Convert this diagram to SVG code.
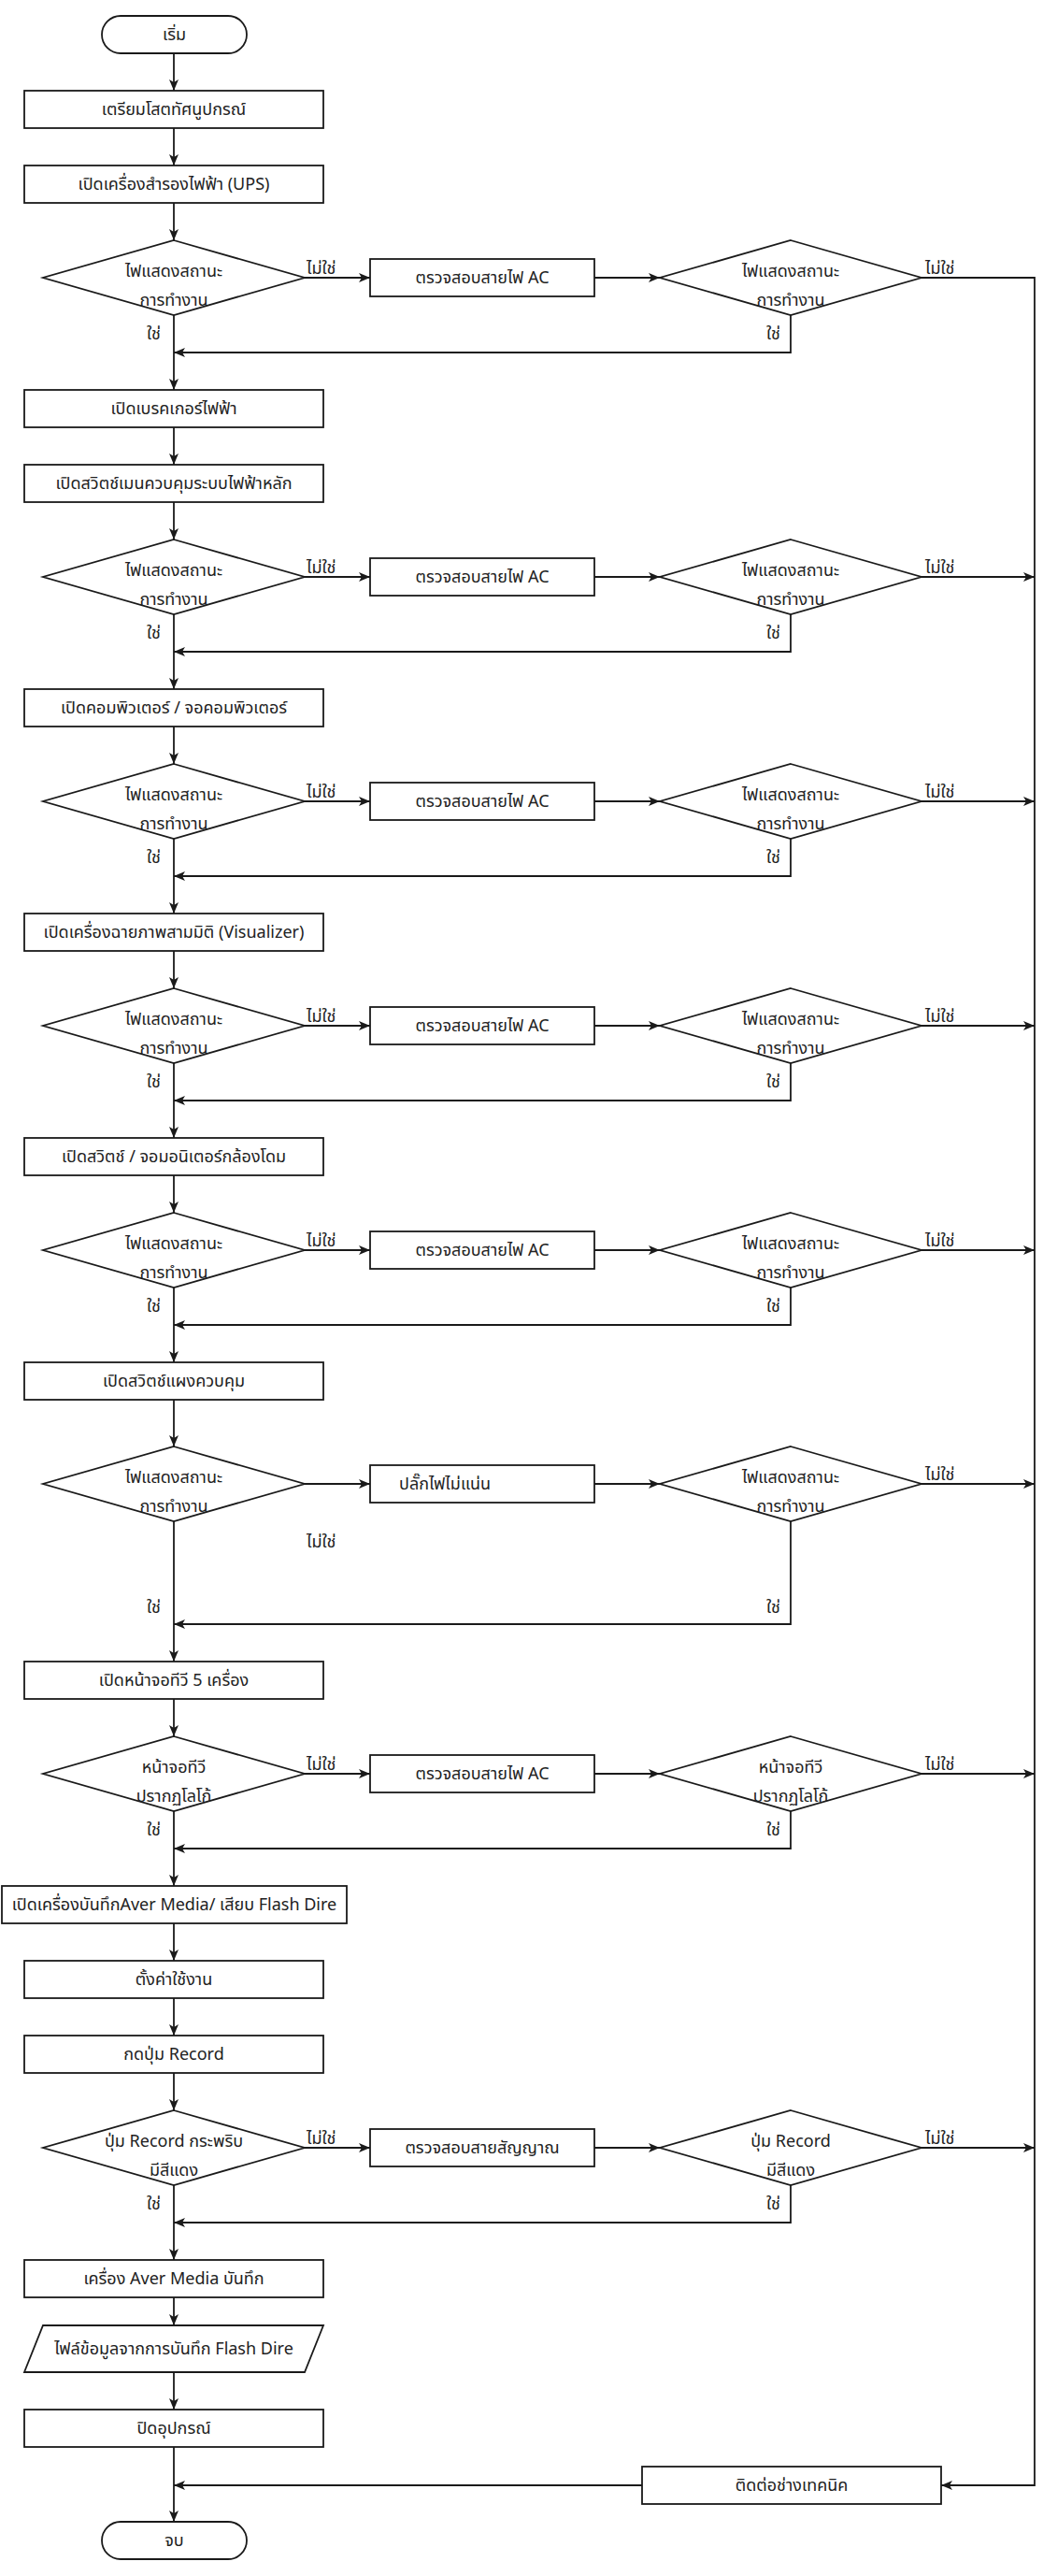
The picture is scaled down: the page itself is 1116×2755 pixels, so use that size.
<svg xmlns="http://www.w3.org/2000/svg" width="1116" height="2755" viewBox="0 0 1116 2755">
<style>
.s{fill:#fff;stroke:#1a1a1a;stroke-width:1.8}
.c{fill:none;stroke:#1a1a1a;stroke-width:1.8}
.a{marker-end:url(#ah)}
text{font-family:"Noto Sans Thai","Tahoma","Leelawadee UI","Noto Sans","DejaVu Sans",sans-serif;font-size:18px;fill:#222}
.m{text-anchor:middle}
</style>
<defs>
<marker id="ah" markerUnits="userSpaceOnUse" markerWidth="12" markerHeight="10" refX="12" refY="5" orient="auto">
<path d="M0,0 L12,5 L0,10 L3,5 z" fill="#1a1a1a"/>
</marker>
</defs>
<rect width="1116" height="2755" fill="#fff"/>
<g id="connectors">
<path class="c a" d="M186,57 V97"/>
<path class="c a" d="M186,137 V177"/>
<path class="c a" d="M186,217 V257"/>
<path class="c a" d="M186,337 V417"/>
<path class="c a" d="M186,457 V497"/>
<path class="c a" d="M186,537 V577"/>
<path class="c a" d="M186,657 V737"/>
<path class="c a" d="M186,777 V817"/>
<path class="c a" d="M186,897 V977"/>
<path class="c a" d="M186,1017 V1057"/>
<path class="c a" d="M186,1137 V1217"/>
<path class="c a" d="M186,1257 V1297"/>
<path class="c a" d="M186,1377 V1457"/>
<path class="c a" d="M186,1497 V1547"/>
<path class="c a" d="M186,1627 V1777"/>
<path class="c a" d="M186,1817 V1857"/>
<path class="c a" d="M186,1937 V2017"/>
<path class="c a" d="M186,2057 V2097"/>
<path class="c a" d="M186,2137 V2177"/>
<path class="c a" d="M186,2217 V2257"/>
<path class="c a" d="M186,2337 V2417"/>
<path class="c a" d="M186,2457 V2487"/>
<path class="c a" d="M186,2537 V2577"/>
<path class="c a" d="M186,2617 V2697"/>
<path class="c a" d="M326,297 H396"/><path class="c a" d="M636,297 H706"/><path class="c a" d="M846,337 V377 H186"/>
<path class="c a" d="M326,617 H396"/><path class="c a" d="M636,617 H706"/><path class="c a" d="M846,657 V697 H186"/>
<path class="c a" d="M326,857 H396"/><path class="c a" d="M636,857 H706"/><path class="c a" d="M846,897 V937 H186"/>
<path class="c a" d="M326,1097 H396"/><path class="c a" d="M636,1097 H706"/><path class="c a" d="M846,1137 V1177 H186"/>
<path class="c a" d="M326,1337 H396"/><path class="c a" d="M636,1337 H706"/><path class="c a" d="M846,1377 V1417 H186"/>
<path class="c a" d="M326,1587 H396"/><path class="c a" d="M636,1587 H706"/><path class="c a" d="M846,1627 V1737 H186"/>
<path class="c a" d="M326,1897 H396"/><path class="c a" d="M636,1897 H706"/><path class="c a" d="M846,1937 V1977 H186"/>
<path class="c a" d="M326,2297 H396"/><path class="c a" d="M636,2297 H706"/><path class="c a" d="M846,2337 V2377 H186"/>
<path class="c a" d="M986,297 H1107 V2658 H1007"/>
<path class="c a" d="M986,617 H1107"/>
<path class="c a" d="M986,857 H1107"/>
<path class="c a" d="M986,1097 H1107"/>
<path class="c a" d="M986,1337 H1107"/>
<path class="c a" d="M986,1587 H1107"/>
<path class="c a" d="M986,1897 H1107"/>
<path class="c a" d="M986,2297 H1107"/>
<path class="c a" d="M687,2658 H186"/>
<g id="labels">
<text x="328" y="293">ไม่ใช่</text><text x="990" y="293">ไม่ใช่</text><text x="157" y="363">ใช่</text><text x="820" y="363">ใช่</text>
<text x="328" y="613">ไม่ใช่</text><text x="990" y="613">ไม่ใช่</text><text x="157" y="683">ใช่</text><text x="820" y="683">ใช่</text>
<text x="328" y="853">ไม่ใช่</text><text x="990" y="853">ไม่ใช่</text><text x="157" y="923">ใช่</text><text x="820" y="923">ใช่</text>
<text x="328" y="1093">ไม่ใช่</text><text x="990" y="1093">ไม่ใช่</text><text x="157" y="1163">ใช่</text><text x="820" y="1163">ใช่</text>
<text x="328" y="1333">ไม่ใช่</text><text x="990" y="1333">ไม่ใช่</text><text x="157" y="1403">ใช่</text><text x="820" y="1403">ใช่</text>
<text x="328" y="1655">ไม่ใช่</text><text x="990" y="1583">ไม่ใช่</text><text x="157" y="1725">ใช่</text><text x="820" y="1725">ใช่</text>
<text x="328" y="1893">ไม่ใช่</text><text x="990" y="1893">ไม่ใช่</text><text x="157" y="1963">ใช่</text><text x="820" y="1963">ใช่</text>
<text x="328" y="2293">ไม่ใช่</text><text x="990" y="2293">ไม่ใช่</text><text x="157" y="2363">ใช่</text><text x="820" y="2363">ใช่</text>
</g>
</g>
<g id="start"><rect class="s" x="109" y="17" width="155" height="40" rx="20"/><text class="m" x="186.5" y="43">เริ่ม</text></g>
<g id="n1"><rect class="s" x="26" y="97" width="320" height="40"/><text class="m" x="186" y="123">เตรียมโสตทัศนูปกรณ์</text></g>
<g id="n2"><rect class="s" x="26" y="177" width="320" height="40"/><text class="m" x="186" y="203">เปิดเครื่องสำรองไฟฟ้า (UPS)</text></g>
<g id="d1"><path class="s" d="M186,257 L326,297 L186,337 L46,297 z"/><text class="m" x="186" y="296">ไฟแสดงสถานะ</text><text class="m" x="186" y="327">การทำงาน</text></g>
<g id="b1"><rect class="s" x="396" y="277" width="240" height="40"/><text class="m" x="516" y="303">ตรวจสอบสายไฟ AC</text></g>
<g id="e1"><path class="s" d="M846,257 L986,297 L846,337 L706,297 z"/><text class="m" x="846" y="296">ไฟแสดงสถานะ</text><text class="m" x="846" y="327">การทำงาน</text></g>
<g id="n3"><rect class="s" x="26" y="417" width="320" height="40"/><text class="m" x="186" y="443">เปิดเบรคเกอร์ไฟฟ้า</text></g>
<g id="n4"><rect class="s" x="26" y="497" width="320" height="40"/><text class="m" x="186" y="523">เปิดสวิตช์เมนควบคุมระบบไฟฟ้าหลัก</text></g>
<g id="d2"><path class="s" d="M186,577 L326,617 L186,657 L46,617 z"/><text class="m" x="186" y="616">ไฟแสดงสถานะ</text><text class="m" x="186" y="647">การทำงาน</text></g>
<g id="b2"><rect class="s" x="396" y="597" width="240" height="40"/><text class="m" x="516" y="623">ตรวจสอบสายไฟ AC</text></g>
<g id="e2"><path class="s" d="M846,577 L986,617 L846,657 L706,617 z"/><text class="m" x="846" y="616">ไฟแสดงสถานะ</text><text class="m" x="846" y="647">การทำงาน</text></g>
<g id="n5"><rect class="s" x="26" y="737" width="320" height="40"/><text class="m" x="186" y="763">เปิดคอมพิวเตอร์ / จอคอมพิวเตอร์</text></g>
<g id="d3"><path class="s" d="M186,817 L326,857 L186,897 L46,857 z"/><text class="m" x="186" y="856">ไฟแสดงสถานะ</text><text class="m" x="186" y="887">การทำงาน</text></g>
<g id="b3"><rect class="s" x="396" y="837" width="240" height="40"/><text class="m" x="516" y="863">ตรวจสอบสายไฟ AC</text></g>
<g id="e3"><path class="s" d="M846,817 L986,857 L846,897 L706,857 z"/><text class="m" x="846" y="856">ไฟแสดงสถานะ</text><text class="m" x="846" y="887">การทำงาน</text></g>
<g id="n6"><rect class="s" x="26" y="977" width="320" height="40"/><text class="m" x="186" y="1003">เปิดเครื่องฉายภาพสามมิติ (Visualizer)</text></g>
<g id="d4"><path class="s" d="M186,1057 L326,1097 L186,1137 L46,1097 z"/><text class="m" x="186" y="1096">ไฟแสดงสถานะ</text><text class="m" x="186" y="1127">การทำงาน</text></g>
<g id="b4"><rect class="s" x="396" y="1077" width="240" height="40"/><text class="m" x="516" y="1103">ตรวจสอบสายไฟ AC</text></g>
<g id="e4"><path class="s" d="M846,1057 L986,1097 L846,1137 L706,1097 z"/><text class="m" x="846" y="1096">ไฟแสดงสถานะ</text><text class="m" x="846" y="1127">การทำงาน</text></g>
<g id="n7"><rect class="s" x="26" y="1217" width="320" height="40"/><text class="m" x="186" y="1243">เปิดสวิตช์ / จอมอนิเตอร์กล้องโดม</text></g>
<g id="d5"><path class="s" d="M186,1297 L326,1337 L186,1377 L46,1337 z"/><text class="m" x="186" y="1336">ไฟแสดงสถานะ</text><text class="m" x="186" y="1367">การทำงาน</text></g>
<g id="b5"><rect class="s" x="396" y="1317" width="240" height="40"/><text class="m" x="516" y="1343">ตรวจสอบสายไฟ AC</text></g>
<g id="e5"><path class="s" d="M846,1297 L986,1337 L846,1377 L706,1337 z"/><text class="m" x="846" y="1336">ไฟแสดงสถานะ</text><text class="m" x="846" y="1367">การทำงาน</text></g>
<g id="n8"><rect class="s" x="26" y="1457" width="320" height="40"/><text class="m" x="186" y="1483">เปิดสวิตช์แผงควบคุม</text></g>
<g id="d6"><path class="s" d="M186,1547 L326,1587 L186,1627 L46,1587 z"/><text class="m" x="186" y="1586">ไฟแสดงสถานะ</text><text class="m" x="186" y="1617">การทำงาน</text></g>
<g id="b6"><rect class="s" x="396" y="1567" width="240" height="40"/><text x="427" y="1593">ปลั๊กไฟไม่แน่น</text></g>
<g id="e6"><path class="s" d="M846,1547 L986,1587 L846,1627 L706,1587 z"/><text class="m" x="846" y="1586">ไฟแสดงสถานะ</text><text class="m" x="846" y="1617">การทำงาน</text></g>
<g id="n9"><rect class="s" x="26" y="1777" width="320" height="40"/><text class="m" x="186" y="1803">เปิดหน้าจอทีวี 5 เครื่อง</text></g>
<g id="d7"><path class="s" d="M186,1857 L326,1897 L186,1937 L46,1897 z"/><text class="m" x="186" y="1896">หน้าจอทีวี</text><text class="m" x="186" y="1927">ปรากฏโลโก้</text></g>
<g id="b7"><rect class="s" x="396" y="1877" width="240" height="40"/><text class="m" x="516" y="1903">ตรวจสอบสายไฟ AC</text></g>
<g id="e7"><path class="s" d="M846,1857 L986,1897 L846,1937 L706,1897 z"/><text class="m" x="846" y="1896">หน้าจอทีวี</text><text class="m" x="846" y="1927">ปรากฏโลโก้</text></g>
<g id="n10"><rect class="s" x="2" y="2017" width="369" height="40"/><text class="m" x="186.5" y="2043">เปิดเครื่องบันทึกAver Media/ เสียบ Flash Dire</text></g>
<g id="n11"><rect class="s" x="26" y="2097" width="320" height="40"/><text class="m" x="186" y="2123">ตั้งค่าใช้งาน</text></g>
<g id="n12"><rect class="s" x="26" y="2177" width="320" height="40"/><text class="m" x="186" y="2203">กดปุ่ม Record</text></g>
<g id="d8"><path class="s" d="M186,2257 L326,2297 L186,2337 L46,2297 z"/><text class="m" x="186" y="2296">ปุ่ม Record กระพริบ</text><text class="m" x="186" y="2327">มีสีแดง</text></g>
<g id="b8"><rect class="s" x="396" y="2277" width="240" height="40"/><text class="m" x="516" y="2303">ตรวจสอบสายสัญญาณ</text></g>
<g id="e8"><path class="s" d="M846,2257 L986,2297 L846,2337 L706,2297 z"/><text class="m" x="846" y="2296">ปุ่ม Record</text><text class="m" x="846" y="2327">มีสีแดง</text></g>
<g id="n13"><rect class="s" x="26" y="2417" width="320" height="40"/><text class="m" x="186" y="2443">เครื่อง Aver Media บันทึก</text></g>
<g id="n14"><path class="s" d="M46,2487 H346 L326,2537 H26 z"/><text class="m" x="186" y="2518">ไฟล์ข้อมูลจากการบันทึก Flash Dire</text></g>
<g id="n15"><rect class="s" x="26" y="2577" width="320" height="40"/><text class="m" x="186" y="2603">ปิดอุปกรณ์</text></g>
<g id="tech"><rect class="s" x="687" y="2638" width="320" height="40"/><text class="m" x="847" y="2664">ติดต่อช่างเทคนิค</text></g>
<g id="end"><rect class="s" x="109" y="2697" width="155" height="40" rx="20"/><text class="m" x="186.5" y="2723">จบ</text></g>
</svg>
